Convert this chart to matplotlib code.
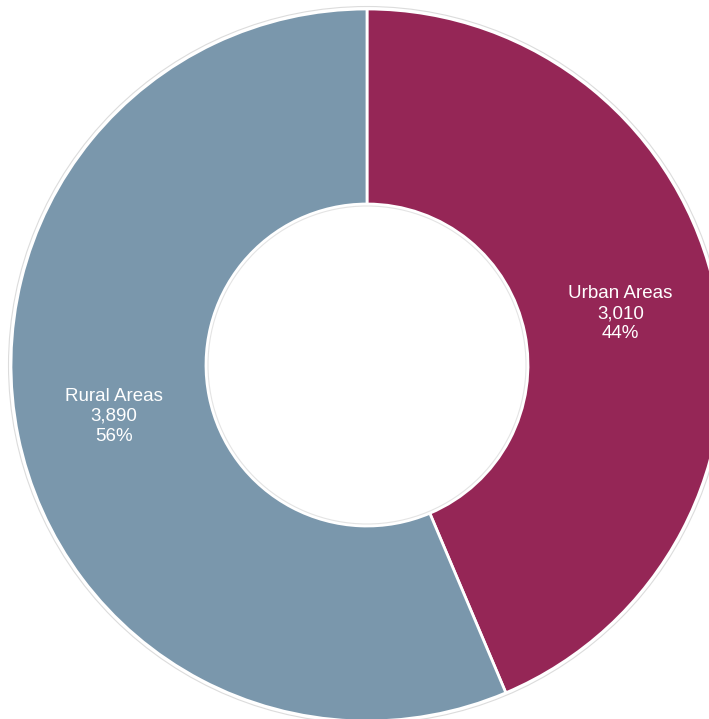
import numpy as np
import matplotlib.pyplot as plt
from matplotlib.patches import Circle

# Datos del gráfico
categorias = ['Urban Areas', 'Rural Areas']
valores = [3010, 3890]
colores = ['#952656', '#7a97ac']

total = sum(valores)
porcentajes = [v / total * 100 for v in valores]

# Figura en unidades de píxel
fig = plt.figure(figsize=(7.09, 7.19), dpi=100)
ax = fig.add_axes([0, 0, 1, 1])

centro = (367, 354)
r_ext = 356
r_int = 161
ancho = r_ext - r_int

wedges, _ = ax.pie(valores, colors=colores, startangle=90, counterclock=False,
                   radius=r_ext, center=centro,
                   wedgeprops=dict(width=ancho, edgecolor='white', linewidth=2))

# Borde exterior e interior suaves
ax.add_patch(Circle(centro, r_ext + 2.5, fill=False, edgecolor='#dcdcdc', linewidth=0.8))
ax.add_patch(Circle(centro, r_int - 2, fill=False, edgecolor='#e4e4e4', linewidth=0.8))

# Etiquetas en el medio del anillo
r_med = (r_ext + r_int) / 2
for w, cat, val, pct in zip(wedges, categorias, valores, porcentajes):
    ang = np.deg2rad((w.theta1 + w.theta2) / 2)
    x = centro[0] + r_med * np.cos(ang)
    y = centro[1] + r_med * np.sin(ang)
    ax.text(x, y, f'{cat}\n{val:,}\n{pct:.0f}%', ha='center', va='center',
            color='white', fontsize=13.5, family='Liberation Sans', linespacing=1.25)

ax.set_xlim(0, 709)
ax.set_ylim(0, 719)
ax.set_aspect('auto')
ax.axis('off')

plt.savefig('out.png', dpi=100)
